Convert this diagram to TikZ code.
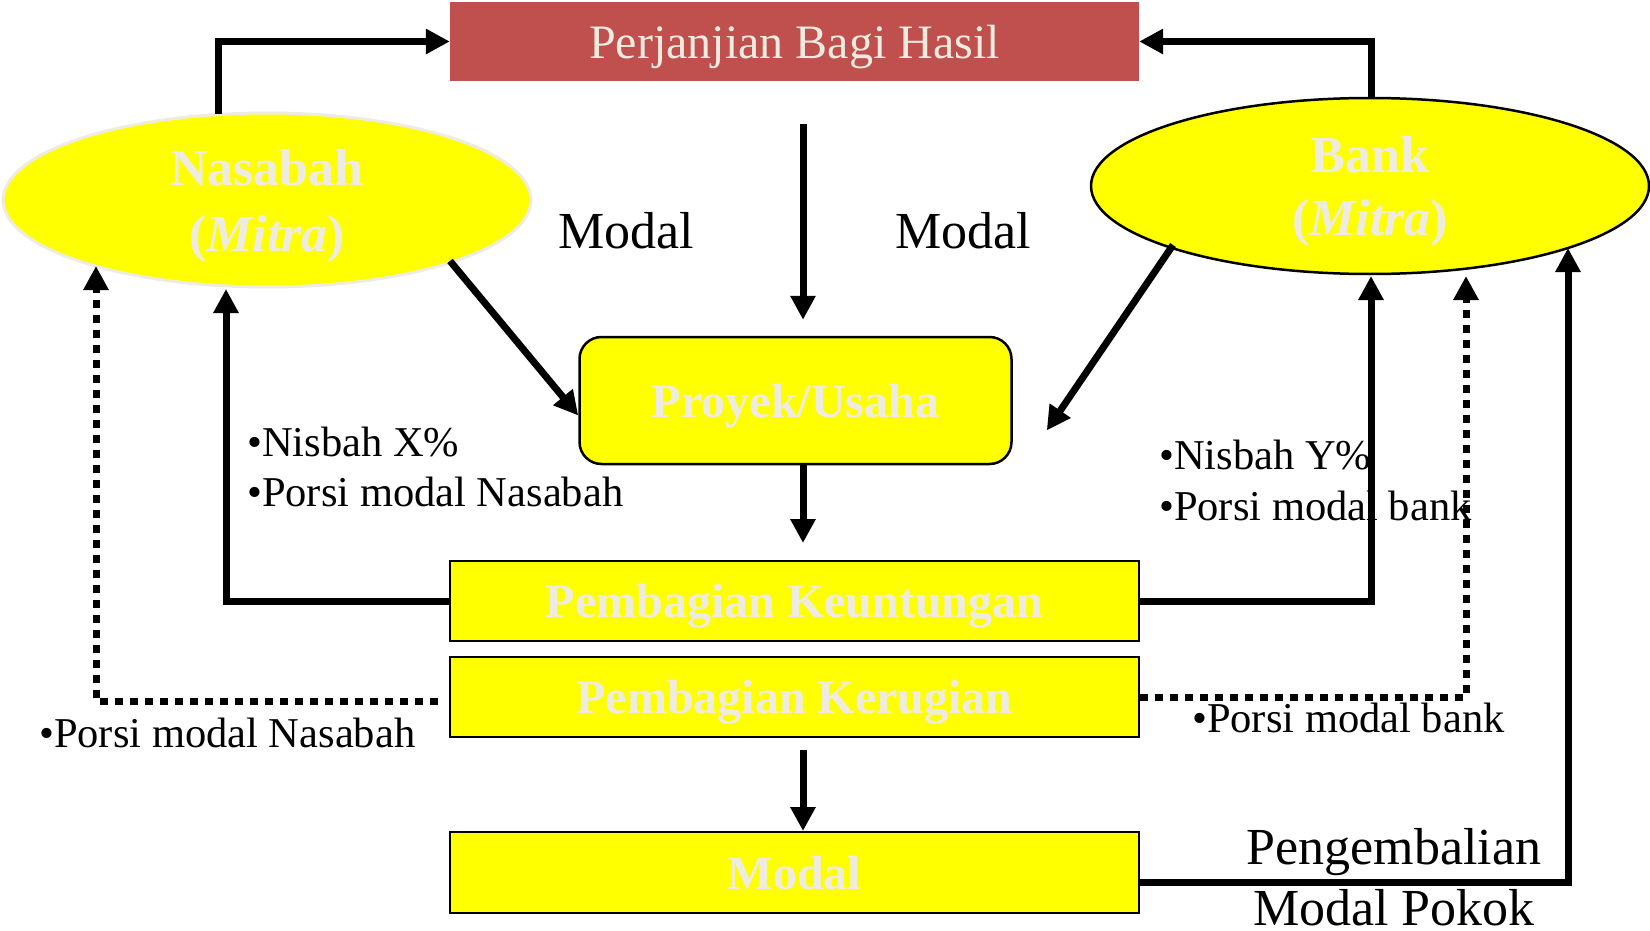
\documentclass[tikz,border=0pt]{standalone}
\usepackage{fontspec}
\setmainfont{Liberation Serif}
\usetikzlibrary{arrows.meta,shapes.geometric,calc}
\definecolor{cream}{HTML}{EEECE1}
\definecolor{brick}{HTML}{C0504D}
\definecolor{lemon}{HTML}{FFFF00}
\begin{document}
\begin{tikzpicture}[x=1pt,y=-1pt,
  arr/.style={line width=7pt,-{Triangle[width=24pt,length=24pt]}},
  dotarr/.style={arr,dash pattern=on 8pt off 7pt},
  boxtext/.style={text=cream,text depth=0pt,font=\fontsize{48}{58}\selectfont\bfseries},
  flowbox/.style={rectangle,fill=lemon,draw=black,line width=2pt,
    minimum width=689pt,minimum height=80pt,inner sep=0pt,boxtext},
  party/.style={ellipse,fill=lemon,inner sep=0pt,align=center,text depth=0pt,
    text=cream,font=\fontsize{52}{63}\selectfont\bfseries},
  biglbl/.style={inner sep=0pt,align=center,font=\fontsize{52}{61}\selectfont},
  smalllbl/.style={inner sep=0pt,anchor=west,font=\fontsize{42.5}{50}\selectfont}
]
\useasboundingbox (0,0) rectangle (1650,931);

% agreement box
\node[rectangle,fill=brick,minimum width=689pt,minimum height=79pt,inner sep=0pt,
  text=cream,text depth=0pt,font=\fontsize{48}{58}\selectfont] (perj) at (794.5,41.5) {Perjanjian Bagi Hasil};

% the two partners
\node[party,draw=cream,line width=3pt,minimum width=528pt,minimum height=174pt,
  text depth=-6pt,font=\fontsize{52}{66}\selectfont\bfseries]
  (nas) at (267,200) {Nasabah\\(\textit{Mitra})};
\node[party,draw=black,line width=2.5pt,minimum width=558pt,minimum height=176pt]
  (bank) at (1370,186) {Bank\\(\textit{Mitra})};

% project and outcome boxes
\node[rectangle,rounded corners=22pt,fill=lemon,draw=black,line width=2.5pt,
  minimum width=432pt,minimum height=127pt,inner sep=0pt,boxtext,text depth=-2pt]
  (proy) at (795.5,400.5) {Proyek/Usaha};
\node[flowbox,text depth=-2pt] (keun) at (794.5,601) {Pembagian Keuntungan};
\node[flowbox,text depth=-3pt] (kerug) at (794.5,697) {Pembagian Kerugian};
\node[flowbox,minimum height=81pt,text depth=-6pt] (modalbox) at (794.5,872.5) {Modal};

% labels
\node[biglbl] (lmodal1) at (626,231) {Modal};
\node[biglbl] (lmodal2) at (963,231) {Modal};
\node[smalllbl] (lnx) at (247,442) {•Nisbah X\%};
\node[smalllbl] (lpn) at (247,492) {•Porsi modal Nasabah};
\node[smalllbl] (lny) at (1159,455) {•Nisbah Y\%};
\node[smalllbl] (lpb) at (1159,506) {•Porsi modal bank};
\node[smalllbl] (lpn2) at (39,733) {•Porsi modal Nasabah};
\node[smalllbl] (lpb2) at (1192,718) {•Porsi modal bank};
\node[biglbl] (lkembali) at (1394,877) {Pengembalian\\Modal Pokok};

% connectors
\draw[arr] ($(nas.center)+(-49,-86)$) |- (perj.west);
\draw[arr] ($(bank.center)+(1,-88)$) |- (perj.east);
\draw[arr] ($(perj.south)+(8.5,43)$) -- ($(proy.north)+(7.5,-16)$);
\draw[arr] ($(nas.center)+(183,61)$) -- ($(proy.west)+(0,15)$);
\draw[arr] ($(bank.center)+(-197,59)$) -- ($(proy.east)+(34,30)$);
\draw[arr] ($(proy.south)+(7.5,0)$) -- ($(keun.north)+(8.5,-17)$);
\draw[arr] (keun.west) -| ($(nas.center)+(-41,89)$);
\draw[arr] (keun.east) -| ($(bank.center)+(1,90)$);
\draw[dotarr] ($(kerug.west)+(-11,4)$) -| ($(nas.center)+(-171,66)$);
\draw[dotarr] (kerug.east) -| ($(bank.center)+(96,90)$);
\draw[arr] ($(kerug.south)+(8.5,12)$) -- ($(modalbox.north)+(8.5,0)$);
\draw[arr] ($(modalbox.east)+(0,10)$) -| ($(bank.center)+(198,62)$);
\end{tikzpicture}
\end{document}
